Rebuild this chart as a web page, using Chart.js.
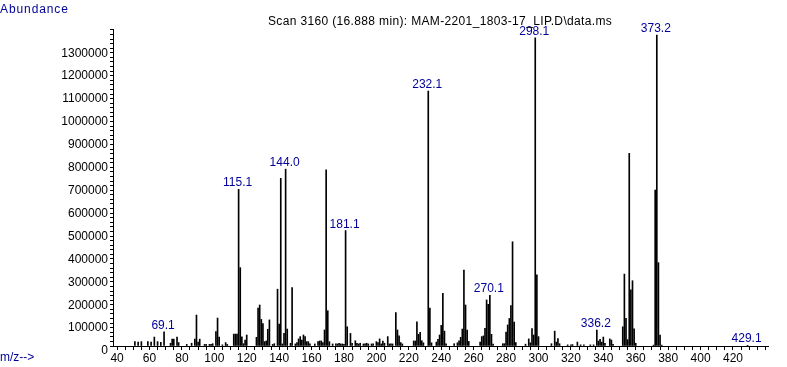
<!DOCTYPE html>
<html>
<head>
<meta charset="utf-8">
<script src="https://cdn.jsdelivr.net/npm/chart.js@4.4.1/dist/chart.umd.min.js"></script>
<style>
  html, body { margin: 0; padding: 0; background: #fff; }
  #wrap { width: 787px; height: 367px; }
</style>
</head>
<body>
<div id="wrap"><canvas id="spectrum" width="787" height="367"></canvas></div>
<script>
// m/z değerleri ve bolluklar
const mz = [
  51, 53, 55, 59, 61, 63, 65, 67, 69, 73, 74, 75, 77, 78, 83, 86, 88, 89, 90, 91,
  94, 95, 97, 98, 99, 101, 102, 103, 105, 107, 108, 112, 113, 114, 115, 116, 117, 118, 119, 120,
  126, 127, 128, 129, 130, 131, 132, 133, 134, 136, 137, 139, 140, 141, 142, 143, 144, 145, 147, 148,
  150, 151, 152, 153, 154, 155, 156, 157, 158, 159, 162, 164, 165, 166, 167, 168, 169, 170, 171, 173,
  175, 176, 177, 178, 179, 180, 181, 182, 184, 185, 187, 188, 189, 190, 192, 193, 194, 195, 197, 198,
  200, 201, 202, 203, 204, 205, 207, 208, 209, 210, 212, 213, 214, 215, 216, 223, 224, 225, 226, 227,
  228, 229, 232, 233, 234, 237, 238, 239, 240, 241, 242, 243, 248, 250, 251, 252, 253, 254, 255, 256,
  257, 264, 265, 266, 267, 268, 269, 270, 271, 272, 278, 279, 280, 281, 282, 283, 284, 285, 286, 292,
  294, 295, 296, 297, 298, 299, 300, 308, 310, 311, 312, 313, 318, 320, 321, 324, 326, 328, 332, 334,
  336, 337, 338, 339, 340, 341, 344, 345, 346, 352, 353, 354, 355, 356, 357, 358, 359, 360, 371, 372,
  373, 374, 375, 376, 429
];
const abundance = [
  19000, 17000, 19000, 19000, 17000, 39000, 19000, 16000, 62000, 12000, 30000, 30000, 39000, 15000, 7000, 12000, 30000, 135000, 17000, 30000,
  7000, 7000, 7000, 7000, 10000, 63000, 122000, 39000, 5000, 15000, 7000, 52000, 52000, 52000, 684000, 342000, 40000, 10000, 26000, 48000,
  38000, 166000, 179000, 116000, 98000, 19000, 22000, 73000, 114000, 7000, 10000, 248000, 96000, 732000, 9000, 55000, 772000, 74000, 12000, 255000,
  9000, 15000, 31000, 41000, 26000, 48000, 41000, 19000, 19000, 9000, 9000, 19000, 22000, 22000, 15000, 70000, 769000, 154000, 19000, 9000,
  9000, 9000, 12000, 9000, 9000, 7000, 504000, 84000, 55000, 12000, 23000, 12000, 9000, 12000, 9000, 9000, 12000, 9000, 9000, 9000,
  19000, 15000, 31000, 9000, 22000, 12000, 41000, 9000, 9000, 9000, 146000, 70000, 44000, 15000, 9000, 22000, 22000, 105000, 51000, 60000,
  23000, 14000, 1113000, 166000, 14000, 17000, 29000, 48000, 90000, 230000, 65000, 9000, 10000, 14000, 23000, 38000, 74000, 332000, 179000, 70000,
  20000, 17000, 41000, 44000, 77000, 201000, 182000, 221000, 51000, 8000, 10000, 10000, 61000, 92000, 120000, 176000, 455000, 104000, 15000, 8000,
  31000, 14000, 76000, 48000, 1345000, 311000, 41000, 10000, 65000, 17000, 32000, 10000, 5000, 5000, 6000, 17000, 5000, 5000, 5000, 5000,
  70000, 22000, 29000, 17000, 39000, 12000, 31000, 26000, 7000, 84000, 314000, 121000, 28000, 841000, 245000, 285000, 75000, 12000, 4000, 681000,
  1358000, 364000, 48000, 4000, 3000
];

// Etiketli tepeler
const labelMz = [69, 115, 144, 181, 232, 270, 298, 336, 373, 429];
const labelText = ["69.1", "115.1", "144.0", "181.1", "232.1", "270.1", "298.1", "336.2", "373.2", "429.1"];

// Eksen çentikleri: her 5 m/z ve her 20000 bolluk; etiketler 20 ve 100000 adımda
const xTickValues = [];
for (let v = 40; v <= 440; v += 5) xTickValues.push(v);
const yTickValues = [];
for (let v = 0; v <= 1380000; v += 20000) yTickValues.push(v);

const titleText = "Scan 3160 (16.888 min): MAM-2201_1803-17_LIP.D\\data.ms";
const FONT = "Arial, 'Liberation Sans', sans-serif";

// Yazılar: başlık, eksen adları, tepe etiketleri
const textPlugin = {
  id: "texts",
  afterDraw(chart) {
    const ctx = chart.ctx;
    const xs = chart.scales.x;
    const ys = chart.scales.y;
    ctx.save();
    ctx.font = "12px " + FONT;
    ctx.textBaseline = "alphabetic";
    ctx.fillStyle = "#000099";
    ctx.textAlign = "center";
    labelMz.forEach((m, i) => {
      const v = abundance[mz.indexOf(m)];
      ctx.fillText(labelText[i], xs.getPixelForValue(m) - 1, ys.getPixelForValue(v) - 3);
    });
    ctx.textAlign = "left";
    ctx.fillText("m/z-->", 0, 361);
    ctx.letterSpacing = "0.9px";
    ctx.fillText("Abundance", 0, 13);
    ctx.letterSpacing = "0.35px";
    ctx.fillStyle = "#000";
    ctx.fillText(titleText, 268, 25);
    ctx.restore();
  },
};

const ctx = document.getElementById("spectrum").getContext("2d");
new Chart(ctx, {
  type: "bar",
  data: {
    datasets: [
      {
        data: mz.map((m, i) => ({ x: m, y: abundance[i] })),
        backgroundColor: "#000",
        borderWidth: 0,
        barThickness: 1,
      },
    ],
  },
  options: {
    responsive: false,
    animation: false,
    devicePixelRatio: 1,
    layout: { padding: { left: 0, right: 19, top: 29, bottom: 0 } },
    plugins: {
      legend: { display: false },
      tooltip: { enabled: false },
    },
    scales: {
      x: {
        type: "linear",
        min: 37.5,
        max: 441.6,
        offset: false,
        afterBuildTicks: (s) => { s.ticks = xTickValues.map((v) => ({ value: v })); },
        afterFit: (s) => { s.height = 21; },
        border: { display: true, color: "#000", width: 1 },
        grid: { drawOnChartArea: false, drawTicks: true, tickLength: 4, color: "#000", offset: false },
        ticks: {
          autoSkip: false,
          maxRotation: 0,
          padding: 1,
          color: "#000",
          font: { family: FONT, size: 12 },
          callback: (v) => (v % 20 === 0 && v <= 420 ? String(v) : ""),
        },
      },
      y: {
        min: 0,
        max: 1384000,
        afterBuildTicks: (s) => { s.ticks = yTickValues.map((v) => ({ value: v })); },
        afterFit: (s) => { s.width = 113; },
        border: { display: true, color: "#000", width: 1 },
        grid: { drawOnChartArea: false, drawTicks: true, tickLength: 3, color: "#000" },
        ticks: {
          autoSkip: false,
          padding: 2,
          labelOffset: 5,
          color: "#000",
          font: { family: FONT, size: 12 },
          callback: (v) => (v % 100000 === 0 ? String(v) : ""),
        },
      },
    },
  },
  plugins: [textPlugin],
});
</script>
</body>
</html>
